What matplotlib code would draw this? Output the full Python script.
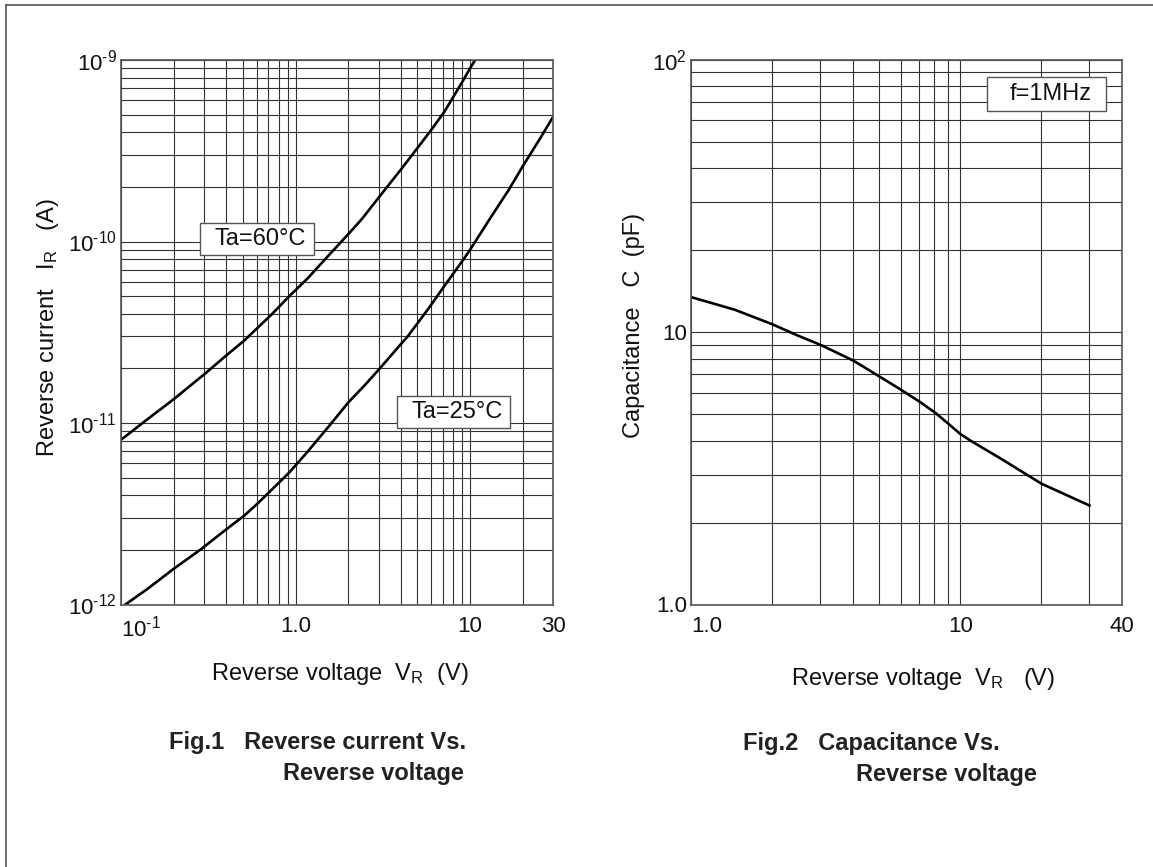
import matplotlib
matplotlib.use('Agg')
import matplotlib.pyplot as plt
from matplotlib.lines import Line2D
from matplotlib.patches import Rectangle
from matplotlib.ticker import LogLocator, NullFormatter

plt.rcParams['font.family'] = ['Liberation Sans', 'DejaVu Sans']
plt.rcParams['mathtext.fontset'] = 'custom'
plt.rcParams['mathtext.rm'] = 'Liberation Sans'
plt.rcParams['mathtext.it'] = 'Liberation Sans:italic'

# Fig.1 reverse current vs reverse voltage
v_60 = [0.102, 0.142, 0.2, 0.303, 0.402, 0.507, 0.727, 0.92, 1.18, 1.47, 2.01, 2.4, 3.03,
        4.0, 5.04, 6.04, 7.14, 8.15, 9.12, 10.0, 10.7]
ir_60 = [8.2e-12, 1.05e-11, 1.35e-11, 1.87e-11, 2.36e-11, 2.84e-11, 3.95e-11, 4.99e-11,
         6.3e-11, 7.94e-11, 1.10e-10, 1.33e-10, 1.77e-10, 2.48e-10, 3.31e-10, 4.16e-10,
         5.2e-10, 6.42e-10, 7.7e-10, 9.0e-10, 1.0e-9]
v_25 = [0.106, 0.142, 0.2, 0.288, 0.402, 0.507, 0.61, 0.718, 0.92, 1.18, 1.54, 2.01, 2.5,
        3.03, 4.0, 4.36, 5.81, 7.14, 9.12, 10.0, 12.9, 16.8, 20.3, 25.0, 30.0]
ir_25 = [1.0e-12, 1.22e-12, 1.57e-12, 2.02e-12, 2.6e-12, 3.08e-12, 3.62e-12, 4.22e-12,
         5.33e-12, 7.0e-12, 9.5e-12, 1.3e-11, 1.62e-11, 1.99e-11, 2.71e-11, 2.97e-11,
         4.3e-11, 5.7e-11, 7.9e-11, 9.0e-11, 1.32e-10, 1.95e-10, 2.65e-10, 3.65e-10, 4.88e-10]
fig1_xticks = [0.1, 1.0, 10.0, 30.0]
fig1_xlabels = [r'$10^{\text{-1}}$', '1.0', '10', '30']
fig1_yticks = [1e-12, 1e-11, 1e-10, 1e-9]
fig1_ylabels = [r'$10^{\text{-12}}$', r'$10^{\text{-11}}$', r'$10^{\text{-10}}$', r'$10^{\text{-9}}$']

# Fig.2 capacitance vs reverse voltage
v_c = [1.014, 1.45, 2.0, 2.49, 3.03, 4.0, 5.05, 6.0, 7.11, 8.09, 9.15, 10.0, 10.9, 14.1, 20.0, 30.2]
cap = [13.4, 12.1, 10.7, 9.72, 8.98, 7.87, 6.84, 6.16, 5.53, 5.05, 4.56, 4.23, 4.0, 3.44, 2.78, 2.31]
fig2_xticks = [1.0, 10.0, 40.0]
fig2_xlabels = ['1.0', '10', '40']
fig2_yticks = [1.0, 10.0, 100.0]
fig2_ylabels = ['1.0', '10', r'$10^{2}$']

W, H = 1153, 867
TICK_FS = 16
LABEL_FS = 17


def px(x, y):
    return x / W, 1 - y / H


def setup(ax, xlim, ylim, xticks, xlabels, yticks, ylabels):
    ax.set_xscale('log')
    ax.set_yscale('log')
    ax.set_xlim(*xlim)
    ax.set_ylim(*ylim)
    ax.set_xticks(xticks, xlabels)
    ax.set_yticks(yticks, ylabels)
    ax.xaxis.set_minor_locator(LogLocator(base=10, subs=range(2, 10), numticks=50))
    ax.yaxis.set_minor_locator(LogLocator(base=10, subs=range(2, 10), numticks=50))
    ax.xaxis.set_minor_formatter(NullFormatter())
    ax.yaxis.set_minor_formatter(NullFormatter())
    ax.tick_params(which='both', length=0, labelsize=TICK_FS, colors='#111')
    ax.tick_params(axis='x', pad=8)
    ax.tick_params(axis='y', pad=3)
    ax.grid(True, which='both', color='#333', lw=0.8)
    for s in ax.spines.values():
        s.set_color('#555')
        s.set_linewidth(1.2)
    ax.get_xticklabels()[0].set_ha('left')


def boxed(ax, cx, cy, w, h, text, dx=0):
    # cx, cy in pixels of the figure; box w x h in pixels
    fx, fy = px(cx, cy)
    ax.add_patch(Rectangle((fx - w / 2 / W, fy - h / 2 / H), w / W, h / H,
                           transform=fig.transFigure, fc='white', ec='#555', lw=1.0, zorder=4))
    fig.text(fx + dx / W, fy, text, ha='center', va='center', fontsize=LABEL_FS,
             color='#111', zorder=5)


fig = plt.figure(figsize=(W / 100, H / 100), dpi=100)

ax1 = fig.add_axes([121 / W, 1 - 604.5 / H, 432.3 / W, 544.5 / H])
setup(ax1, (0.1, 30), (1e-12, 1e-9), fig1_xticks, fig1_xlabels, fig1_yticks, fig1_ylabels)
ax1.plot(v_60, ir_60, color='black', lw=1.9)
ax1.plot(v_25, ir_25, color='black', lw=1.9)
boxed(ax1, 257.3, 238.8, 114, 32, 'Ta=60°C', dx=3)
boxed(ax1, 453.7, 412.2, 113, 32, 'Ta=25°C', dx=3)

ax2 = fig.add_axes([691.3 / W, 1 - 604.5 / H, 431 / W, 544.5 / H])
setup(ax2, (1.0, 40), (1.0, 100), fig2_xticks, fig2_xlabels, fig2_yticks, fig2_ylabels)
ax2.plot(v_c, cap, color='black', lw=1.9)
boxed(ax2, 1046.8, 94, 119, 33, 'f=1MHz', dx=4)

# axis labels
fig.text(*px(339.5, 674), r'Reverse voltage  $\mathregular{V_R}$  (V)', ha='center', va='center',
         fontsize=LABEL_FS, color='#111')
fig.text(*px(923.5, 678.6), r'Reverse voltage  $\mathregular{V_R}$   (V)', ha='center', va='center',
         fontsize=LABEL_FS, color='#111')
fig.text(*px(48, 328), r'Reverse current   $\mathregular{I_R}$   (A)', ha='center', va='center',
         rotation=90, fontsize=LABEL_FS, color='#111')
fig.text(*px(634, 325), 'Capacitance   C  (pF)', ha='center', va='center',
         rotation=90, fontsize=LABEL_FS, color='#111')

# captions
cap_kw = dict(ha='left', va='center', fontsize=LABEL_FS, fontweight='bold', color='#222')
fig.text(*px(169.4, 742.4), 'Fig.1   Reverse current Vs.', **cap_kw)
fig.text(*px(283, 773.9), 'Reverse voltage', **cap_kw)
fig.text(*px(742.6, 743.3), 'Fig.2   Capacitance Vs.', **cap_kw)
fig.text(*px(856, 774.7), 'Reverse voltage', **cap_kw)

# page frame (top and left edges)
fig.add_artist(Line2D([6 / W, 1], [1 - 5 / H] * 2, transform=fig.transFigure, color='#555', lw=1.2))
fig.add_artist(Line2D([6 / W] * 2, [0, 1 - 5 / H], transform=fig.transFigure, color='#555', lw=1.2))

fig.savefig('out.png', dpi=100)
